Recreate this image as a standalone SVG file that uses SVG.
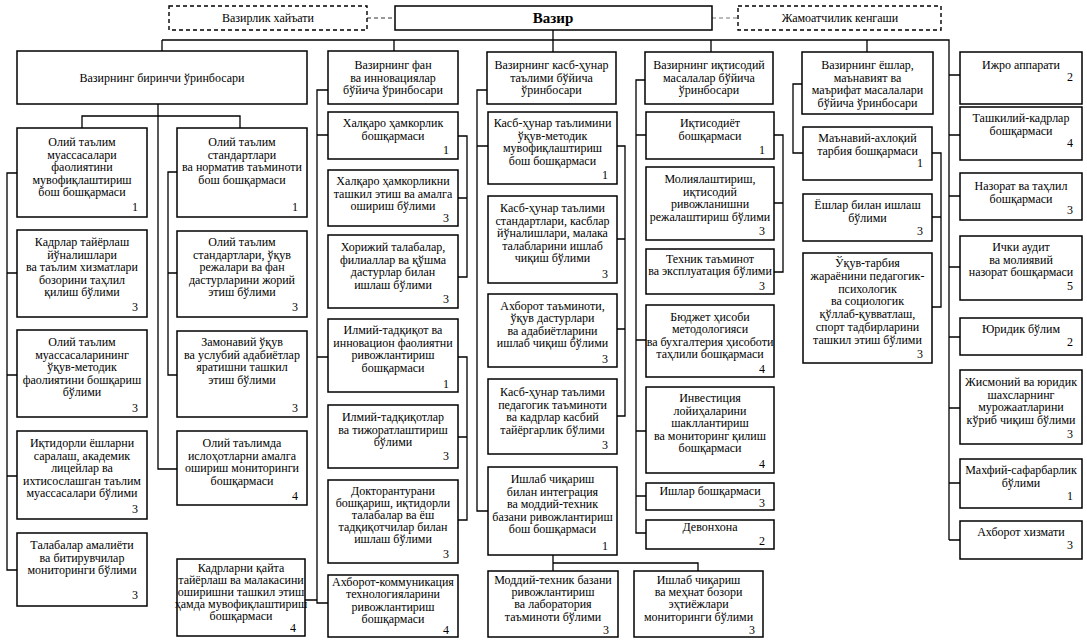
<svg xmlns="http://www.w3.org/2000/svg" width="1087" height="640" viewBox="0 0 1087 640">
<style>
.b{fill:#fff;stroke:#000;stroke-width:1.5}
.d{fill:#fff;stroke:#000;stroke-width:1.4;stroke-dasharray:4 3}
.l{fill:none;stroke:#000;stroke-width:1.3}
.dl{fill:none;stroke:#333;stroke-width:1;stroke-dasharray:4 3}
.dl2{fill:none;stroke:#777;stroke-width:1;stroke-dasharray:4 3}
text{font-family:"Liberation Serif","Times New Roman",serif;font-size:12px;fill:#000}
.c{text-anchor:middle}
.n{text-anchor:end}
.h{font-size:15px;font-weight:bold}
</style>
<rect width="1087" height="640" fill="#fff"/>
<g id="connectors">
<path class="dl" d="M367 18H395"/>
<path class="dl2" d="M712 18H738"/>
<path class="l" d="M553 30V52M162 40H949V540M162 40V51M394 40V51M711 40V52M867 40V52"/>
<path class="l" d="M949 75H960M949 135H960M949 196H960M949 267H960M949 337H960M949 408H960M949 483H960M949 540H960"/>
<path class="l" d="M158 104V469H177M82 128V116H240V128"/>
<path class="l" d="M17 173H7V570H17M7 273H17M7 375H17M7 476H17"/>
<path class="l" d="M177 172H168V375H177M168 273H177"/>
<path class="l" d="M328 90H317V603H328M317 135H328M317 357H328M305 600H317"/>
<path class="l" d="M458 136H467V277H458M467 198H458M458 357H467V520H458M467 437H458"/>
<path class="l" d="M487 90H477V511H488M477 146H488"/>
<path class="l" d="M617 146H625V416H617M625 239H617M625 329H617"/>
<path class="l" d="M553 555V571M553 563H698V571"/>
<path class="l" d="M645 80H636V533H646M636 135H646M636 340H646M636 431H646M636 496H646"/>
<path class="l" d="M774 135H783V272H774M783 203H774"/>
<path class="l" d="M802 84H793V153H803"/>
<path class="l" d="M932 153H941V307H932M941 217H932"/>
</g>
<g id="hayat"><rect class="d" x="169" y="6" width="198" height="24"/><text class="c" x="268" y="22">Вазирлик хайъати</text></g>
<g id="vazir"><rect class="b" x="395" y="6" width="317" height="24"/><text class="c h" x="553" y="23">Вазир</text></g>
<g id="jamoat"><rect class="d" x="738" y="6" width="203" height="24"/><text class="c" x="840" y="22">Жамоатчилик кенгаши</text></g>

<g id="dep1"><rect class="b" x="17" y="51" width="290" height="53"/><text class="c" x="162" y="82">Вазирнинг биринчи ўринбосари</text></g>
<g id="depC"><rect class="b" x="328" y="51" width="130" height="53"/><text class="c" x="393" y="69"><tspan x="393">Вазирнинг фан</tspan><tspan x="393" dy="12.6">ва инновациялар</tspan><tspan x="393" dy="12.6">бўйича ўринбосари</tspan></text></g>
<g id="depD"><rect class="b" x="487" y="52" width="129" height="52"/><text class="c" x="551.5" y="69"><tspan x="551.5">Вазирнинг касб-ҳунар</tspan><tspan x="551.5" dy="12.6">таълими бўйича</tspan><tspan x="551.5" dy="12.6">ўринбосари</tspan></text></g>
<g id="depE"><rect class="b" x="645" y="52" width="128" height="52"/><text class="c" x="709" y="69"><tspan x="709">Вазирнинг иқтисодий</tspan><tspan x="709" dy="12.6">масалалар бўйича</tspan><tspan x="709" dy="12.6">ўринбосари</tspan></text></g>
<g id="depF"><rect class="b" x="802" y="52" width="131" height="62"/><text class="c" x="867.5" y="69"><tspan x="867.5">Вазирнинг ёшлар,</tspan><tspan x="867.5" dy="12.6">маънавият ва</tspan><tspan x="867.5" dy="12.6">маърифат масалалари</tspan><tspan x="867.5" dy="12.6">бўйича ўринбосари</tspan></text></g>

<g id="a1"><rect class="b" x="17" y="128" width="130" height="89"/><text class="c" y="146"><tspan x="82">Олий таълим</tspan><tspan x="82" dy="12.6">муассасалари</tspan><tspan x="82" dy="12.6">фаолиятини</tspan><tspan x="82" dy="12.6">мувофиқлаштириш</tspan><tspan x="82" dy="12.6">бош бошқармаси</tspan></text><text class="n" x="138" y="211">1</text></g>
<g id="a2"><rect class="b" x="17" y="230" width="130" height="87"/><text class="c" y="246"><tspan x="82">Кадрлар тайёрлаш</tspan><tspan x="82" dy="12.6">йўналишлари</tspan><tspan x="82" dy="12.6">ва таълим хизматлари</tspan><tspan x="82" dy="12.6">бозорини таҳлил</tspan><tspan x="82" dy="12.6">қилиш бўлими</tspan></text><text class="n" x="138" y="311">3</text></g>
<g id="a3"><rect class="b" x="17" y="330" width="130" height="87"/><text class="c" y="346"><tspan x="82">Олий таълим</tspan><tspan x="82" dy="12.6">муассасаларининг</tspan><tspan x="82" dy="12.6">ўқув-методик</tspan><tspan x="82" dy="12.6">фаолиятини бошқариш</tspan><tspan x="82" dy="12.6">бўлими</tspan></text><text class="n" x="138" y="412">3</text></g>
<g id="a4"><rect class="b" x="17" y="431" width="130" height="88"/><text class="c" y="447"><tspan x="82">Иқтидорли ёшларни</tspan><tspan x="82" dy="12.6">саралаш, академик</tspan><tspan x="82" dy="12.6">лицейлар ва</tspan><tspan x="82" dy="12.6">ихтисослашган таълим</tspan><tspan x="82" dy="12.6">муассасалари бўлими</tspan></text><text class="n" x="138" y="513">3</text></g>
<g id="a5"><rect class="b" x="17" y="533" width="130" height="73"/><text class="c" y="549"><tspan x="82">Талабалар амалиёти</tspan><tspan x="82" dy="12.6">ва битирувчилар</tspan><tspan x="82" dy="12.6">мониторинги бўлими</tspan></text><text class="n" x="138" y="599">3</text></g>

<g id="b1"><rect class="b" x="177" y="128" width="130" height="89"/><text class="c" y="146"><tspan x="242">Олий таълим</tspan><tspan x="242" dy="12.6">стандартлари</tspan><tspan x="242" dy="12.6">ва норматив таъминоти</tspan><tspan x="242" dy="12.6">бош бошқармаси</tspan></text><text class="n" x="298" y="211">1</text></g>
<g id="b2"><rect class="b" x="177" y="231" width="130" height="86"/><text class="c" y="246"><tspan x="242">Олий таълим</tspan><tspan x="242" dy="12.6">стандартлари, ўқув</tspan><tspan x="242" dy="12.6">режалари ва фан</tspan><tspan x="242" dy="12.6">дастурларини жорий</tspan><tspan x="242" dy="12.6">этиш бўлими</tspan></text><text class="n" x="298" y="311">3</text></g>
<g id="b3"><rect class="b" x="177" y="331" width="130" height="86"/><text class="c" y="346"><tspan x="242">Замонавий ўқув</tspan><tspan x="242" dy="12.6">ва услубий адабиётлар</tspan><tspan x="242" dy="12.6">яратишни ташкил</tspan><tspan x="242" dy="12.6">этиш бўлими</tspan></text><text class="n" x="298" y="412">3</text></g>
<g id="b4"><rect class="b" x="177" y="431" width="130" height="74"/><text class="c" y="447"><tspan x="242">Олий таълимда</tspan><tspan x="242" dy="12.6">ислоҳотларни амалга</tspan><tspan x="242" dy="12.6">ошириш мониторинги</tspan><tspan x="242" dy="12.6">бошқармаси</tspan></text><text class="n" x="298" y="500">4</text></g>
<g id="b5"><rect class="b" x="177" y="559" width="128" height="77"/><text class="c" y="572"><tspan x="241">Кадрларни қайта</tspan><tspan x="241" dy="12">тайёрлаш ва малакасини</tspan><tspan x="241" dy="12">оширишни ташкил этиш</tspan><tspan x="241" dy="12">ҳамда мувофиқлаштириш</tspan><tspan x="241" dy="12">бошқармаси</tspan></text><text class="n" x="296" y="632">4</text></g>

<g id="c1"><rect class="b" x="328" y="112" width="130" height="47"/><text class="c" y="127"><tspan x="393">Халқаро ҳамкорлик</tspan><tspan x="393" dy="12.6">бошқармаси</tspan></text><text class="n" x="449" y="154">1</text></g>
<g id="c2"><rect class="b" x="328" y="170" width="130" height="56"/><text class="c" y="185"><tspan x="393">Халқаро ҳамкорликни</tspan><tspan x="393" dy="12.6">ташкил этиш ва амалга</tspan><tspan x="393" dy="12.6">ошириш бўлими</tspan></text><text class="n" x="449" y="222">3</text></g>
<g id="c3"><rect class="b" x="328" y="235" width="130" height="73"/><text class="c" y="251"><tspan x="393">Хорижий талабалар,</tspan><tspan x="393" dy="12.6">филиаллар ва қўшма</tspan><tspan x="393" dy="12.6">дастурлар билан</tspan><tspan x="393" dy="12.6">ишлаш бўлими</tspan></text><text class="n" x="449" y="303">3</text></g>
<g id="c4"><rect class="b" x="328" y="319" width="130" height="73"/><text class="c" y="334"><tspan x="393">Илмий-тадқиқот ва</tspan><tspan x="393" dy="12.6">инновацион фаолиятни</tspan><tspan x="393" dy="12.6">ривожлантириш</tspan><tspan x="393" dy="12.6">бошқармаси</tspan></text><text class="n" x="449" y="388">1</text></g>
<g id="c5"><rect class="b" x="328" y="405" width="130" height="63"/><text class="c" y="421"><tspan x="393">Илмий-тадқиқотлар</tspan><tspan x="393" dy="12.6">ва тижоратлаштириш</tspan><tspan x="393" dy="12.6">бўлими</tspan></text><text class="n" x="449" y="460">3</text></g>
<g id="c6"><rect class="b" x="328" y="480" width="130" height="83"/><text class="c" y="495"><tspan x="393">Докторантурани</tspan><tspan x="393" dy="12">бошқариш, иқтидорли</tspan><tspan x="393" dy="12">талабалар ва ёш</tspan><tspan x="393" dy="12">тадқиқотчилар билан</tspan><tspan x="393" dy="12">ишлаш бўлими</tspan></text><text class="n" x="449" y="558">3</text></g>
<g id="c7"><rect class="b" x="328" y="575" width="130" height="62"/><text class="c" y="586"><tspan x="393">Ахборот-коммуникация</tspan><tspan x="393" dy="12.4">технологияларини</tspan><tspan x="393" dy="12.4">ривожлантириш</tspan><tspan x="393" dy="12.4">бошқармаси</tspan></text><text class="n" x="449" y="634">4</text></g>

<g id="d1"><rect class="b" x="488" y="112" width="129" height="72"/><text class="c" y="127"><tspan x="552.5">Касб-ҳунар таълимини</tspan><tspan x="552.5" dy="12.6">ўқув-методик</tspan><tspan x="552.5" dy="12.6">мувофиқлаштириш</tspan><tspan x="552.5" dy="12.6">бош бошқармаси</tspan></text><text class="n" x="608" y="179">1</text></g>
<g id="d2"><rect class="b" x="488" y="196" width="129" height="87"/><text class="c" y="212"><tspan x="552.5">Касб-ҳунар таълими</tspan><tspan x="552.5" dy="12.6">стандартлари, касблар</tspan><tspan x="552.5" dy="12.6">йўналишлари, малака</tspan><tspan x="552.5" dy="12.6">талабларини ишлаб</tspan><tspan x="552.5" dy="12.6">чиқиш бўлими</tspan></text><text class="n" x="608" y="278">3</text></g>
<g id="d3"><rect class="b" x="488" y="294" width="129" height="73"/><text class="c" y="310"><tspan x="552.5">Ахборот таъминоти,</tspan><tspan x="552.5" dy="12.4">ўқув дастурлари</tspan><tspan x="552.5" dy="12.4">ва адабиётларини</tspan><tspan x="552.5" dy="12.4">ишлаб чиқиш бўлими</tspan></text><text class="n" x="608" y="363">3</text></g>
<g id="d4"><rect class="b" x="488" y="379" width="129" height="75"/><text class="c" y="396"><tspan x="552.5">Касб-ҳунар таълими</tspan><tspan x="552.5" dy="12.6">педагогик таъминоти</tspan><tspan x="552.5" dy="12.6">ва кадрлар касбий</tspan><tspan x="552.5" dy="12.6">тайёргарлик бўлими</tspan></text><text class="n" x="608" y="449">3</text></g>
<g id="d5"><rect class="b" x="488" y="467" width="129" height="88"/><text class="c" y="483"><tspan x="552.5">Ишлаб чиқариш</tspan><tspan x="552.5" dy="12.6">билан интеграция</tspan><tspan x="552.5" dy="12.6">ва моддий-техник</tspan><tspan x="552.5" dy="12.6">базани ривожлантириш</tspan><tspan x="552.5" dy="12.6">бош бошқармаси</tspan></text><text class="n" x="608" y="550">1</text></g>
<g id="d6"><rect class="b" x="488" y="571" width="130" height="66"/><text class="c" y="584"><tspan x="553">Моддий-техник базани</tspan><tspan x="553" dy="12.2">ривожлантириш</tspan><tspan x="553" dy="12.2">ва лаборатория</tspan><tspan x="553" dy="12.2">таъминоти бўлими</tspan></text><text class="n" x="609" y="634">3</text></g>
<g id="d7"><rect class="b" x="634" y="571" width="129" height="66"/><text class="c" y="584"><tspan x="698.5">Ишлаб чиқариш</tspan><tspan x="698.5" dy="12.2">ва меҳнат бозори</tspan><tspan x="698.5" dy="12.2">эҳтиёжлари</tspan><tspan x="698.5" dy="12.2">мониторинги бўлими</tspan></text><text class="n" x="755" y="634">3</text></g>

<g id="e1"><rect class="b" x="646" y="112" width="128" height="47"/><text class="c" y="127"><tspan x="710">Иқтисодиёт</tspan><tspan x="710" dy="12.6">бошқармаси</tspan></text><text class="n" x="765" y="154">1</text></g>
<g id="e2"><rect class="b" x="646" y="167" width="128" height="73"/><text class="c" y="183"><tspan x="710">Молиялаштириш,</tspan><tspan x="710" dy="12.6">иқтисодий</tspan><tspan x="710" dy="12.6">ривожланишни</tspan><tspan x="710" dy="12.6">режалаштириш бўлими</tspan></text><text class="n" x="765" y="235">3</text></g>
<g id="e3"><rect class="b" x="646" y="249" width="128" height="45"/><text class="c" y="263"><tspan x="710">Техник таъминот</tspan><tspan x="710" dy="12.4">ва эксплуатация бўлими</tspan></text><text class="n" x="765" y="290">3</text></g>
<g id="e4"><rect class="b" x="646" y="305" width="128" height="72"/><text class="c" y="321"><tspan x="710">Бюджет ҳисоби</tspan><tspan x="710" dy="12.4">методологияси</tspan><tspan x="710" dy="12.4">ва бухгалтерия ҳисоботи</tspan><tspan x="710" dy="12.4">таҳлили бошқармаси</tspan></text><text class="n" x="765" y="373">4</text></g>
<g id="e5"><rect class="b" x="646" y="387" width="128" height="86"/><text class="c" y="402"><tspan x="710">Инвестиция</tspan><tspan x="710" dy="12.6">лойиҳаларини</tspan><tspan x="710" dy="12.6">шакллантириш</tspan><tspan x="710" dy="12.6">ва мониторинг қилиш</tspan><tspan x="710" dy="12.6">бошқармаси</tspan></text><text class="n" x="765" y="468">4</text></g>
<g id="e6"><rect class="b" x="646" y="483" width="128" height="27"/><text class="c" x="710" y="495">Ишлар бошқармаси</text><text class="n" x="765" y="507">3</text></g>
<g id="e7"><rect class="b" x="646" y="520" width="128" height="29"/><text class="c" x="710" y="531">Девонхона</text><text class="n" x="765" y="545">2</text></g>

<g id="f1"><rect class="b" x="803" y="127" width="129" height="53"/><text class="c" y="142"><tspan x="867.5">Маънавий-ахлоқий</tspan><tspan x="867.5" dy="12.6">тарбия бошқармаси</tspan></text><text class="n" x="923" y="167">1</text></g>
<g id="f2"><rect class="b" x="803" y="194" width="129" height="47"/><text class="c" y="209"><tspan x="867.5">Ёшлар билан ишлаш</tspan><tspan x="867.5" dy="12.6">бўлими</tspan></text><text class="n" x="923" y="235">3</text></g>
<g id="f3"><rect class="b" x="803" y="253" width="129" height="110"/><text class="c" y="267"><tspan x="867.5">Ўқув-тарбия</tspan><tspan x="867.5" dy="12.8">жараёнини педагогик-</tspan><tspan x="867.5" dy="12.8">психологик</tspan><tspan x="867.5" dy="12.8">ва социологик</tspan><tspan x="867.5" dy="12.8">қўллаб-қувватлаш,</tspan><tspan x="867.5" dy="12.8">спорт тадбирларини</tspan><tspan x="867.5" dy="12.8">ташкил этиш бўлими</tspan></text><text class="n" x="923" y="358">3</text></g>

<g id="g1"><rect class="b" x="960" y="52" width="122" height="52"/><text class="c" x="1021" y="69">Ижро аппарати</text><text class="n" x="1073" y="81">2</text></g>
<g id="g2"><rect class="b" x="960" y="107" width="122" height="53"/><text class="c" y="122"><tspan x="1021">Ташкилий-кадрлар</tspan><tspan x="1021" dy="12.6">бошқармаси</tspan></text><text class="n" x="1073" y="147">4</text></g>
<g id="g3"><rect class="b" x="960" y="173" width="122" height="47"/><text class="c" y="190"><tspan x="1021">Назорат ва таҳлил</tspan><tspan x="1021" dy="12.6">бошқармаси</tspan></text><text class="n" x="1073" y="214">3</text></g>
<g id="g4"><rect class="b" x="960" y="236" width="122" height="64"/><text class="c" y="251"><tspan x="1021">Ички аудит</tspan><tspan x="1021" dy="12.6">ва молиявий</tspan><tspan x="1021" dy="12.6">назорат бошқармаси</tspan></text><text class="n" x="1073" y="290">5</text></g>
<g id="g5"><rect class="b" x="960" y="318" width="122" height="37"/><text class="c" x="1021" y="333">Юридик бўлим</text><text class="n" x="1073" y="346">2</text></g>
<g id="g6"><rect class="b" x="960" y="370" width="122" height="74"/><text class="c" y="386"><tspan x="1021">Жисмоний ва юридик</tspan><tspan x="1021" dy="12.6">шахсларнинг</tspan><tspan x="1021" dy="12.6">мурожаатларини</tspan><tspan x="1021" dy="12.6">кўриб чиқиш бўлими</tspan></text><text class="n" x="1073" y="438">3</text></g>
<g id="g7"><rect class="b" x="960" y="459" width="122" height="49"/><text class="c" y="474"><tspan x="1021">Махфий-сафарбарлик</tspan><tspan x="1021" dy="12.6">бўлими</tspan></text><text class="n" x="1073" y="500">1</text></g>
<g id="g8"><rect class="b" x="960" y="521" width="122" height="38"/><text class="c" x="1021" y="536">Ахборот хизмати</text><text class="n" x="1073" y="549">3</text></g>
</svg>
